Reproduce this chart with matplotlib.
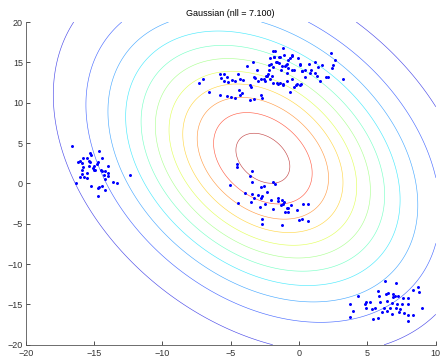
import numpy as np
import matplotlib.pyplot as plt
from matplotlib.colors import Normalize

# cluster points (x, y)
c1_x = [-16.6, -15.3, -15.2, -15.8, -15.5, -16.2, -16.0, -15.9, -15.4, -15.3, -14.7,
        -14.8, -14.4, -14.6, -15.4, -15.0, -15.1, -15.0, -14.9, -15.8, -15.9, -15.5,
        -15.9, -15.7, -15.5, -16.0, -14.5, -14.4, -14.2, -14.0, -14.0, -14.3, -14.2,
        -14.0, -16.3, -13.6, -13.3, -15.2, -14.7, -14.6, -14.4, -14.2, -14.7, -12.4]
c1_y = [4.6, 3.8, 3.5, 3.2, 3.2, 2.7, 2.8, 2.5, 2.8, 2.6, 2.7,
        2.4, 3.2, 4.0, 2.2, 2.2, 1.9, 1.6, 1.7, 2.0, 1.7, 1.3,
        1.2, 0.8, 0.7, 0.8, 1.7, 1.5, 1.5, 2.2, 1.3, 1.0, 0.6,
        0.9, 0.0, 0.2, 0.1, -0.3, -0.6, -0.5, -0.3, -0.8, -1.6, 1.1]

c2_x = [-7.3, -7.0, -6.6, -5.8, -5.5, -5.7, -5.5, -5.3, -5.2, -4.9, -4.7, -4.5, -4.3,
        -4.1, -4.4, -4.2, -3.6, -3.5, -3.3, -3.2, -3.1, -3.4, -3.8, -3.0, -2.8, -2.6,
        -2.5, -2.4, -2.3, -2.2, -2.2, -1.9, -1.8, -1.5, -1.2, -1.1, -1.5, -1.7, -1.9,
        -2.0, -1.9, -1.6, -1.2, -0.9, -1.0, -0.9, -0.8, -0.7, -0.5, -0.4, -0.5, -0.9,
        -0.7, -0.4, -0.2, 0.1, -0.05, 0.1, 0.2, 0.4, 0.7, 0.9, 1.2, 1.3, 1.5, 1.2,
        1.7, 2.1, 2.3, 2.6, 2.4, 3.2, -3.3, -4.3, -3.6, -2.8, -2.7, -5.8, -5.3, -5.0,
        -4.7, -1.76, -1.4, -0.54, -1.8, -2.1, -1.6, -0.98, -1.27, -0.78, -2.05, -1.3,
        -0.54, 0.07, 1.36, 0.24, 0.8, 2.0, 2.5, -2.37, -2.1, -1.4, -1.2, -1.56, -0.17,
        0.14, 0.44]
c2_y = [12.4, 12.9, 11.3, 13.5, 13.6, 13.0, 12.7, 13.2, 12.6, 12.8, 12.7, 13.6, 12.9,
        12.8, 11.6, 11.2, 12.2, 12.0, 13.2, 13.0, 14.1, 15.1, 14.5, 12.7, 12.9, 12.9,
        12.7, 13.3, 13.5, 14.1, 14.7, 16.4, 15.7, 15.7, 16.8, 15.9, 14.9, 15.0, 14.4,
        13.3, 12.5, 12.4, 12.2, 13.7, 14.5, 14.8, 15.3, 15.6, 15.9, 14.1, 12.9, 12.7,
        11.3, 12.0, 12.2, 12.2, 15.5, 14.8, 13.9, 14.0, 14.8, 14.0, 13.7, 13.3, 12.7, 15.0,
        14.7, 13.2, 16.1, 15.3, 14.3, 12.9, 10.4, 11.0, 10.3, 10.9, 10.6, 11.0, 10.8, 10.7,
        10.6, 16.4, 15.7, 15.8, 15.7, 15.5, 15.1, 14.7, 14.5, 14.3, 14.8, 14.0,
        14.1, 14.7, 14.4, 13.9, 13.7, 13.2, 14.7, 13.3, 12.9, 12.5, 12.3, 12.3, 12.3,
        12.3, 13.2]

c3_x = [-4.57, -4.57, -3.47, -3.59, -3.47, -5.05, -2.79, -2.54, -1.88, -1.76, -2.37,
        -3.96, -3.47, -3.03, -2.74, -3.27, -2.78, -3.52, -4.44, -2.5, -2.05, -1.57,
        -1.57, -1.22, -1.08, -1.15, -1.32, -0.91, -0.79, -0.62, -2.86, -1.93, -1.03,
        -0.83, -0.18, 0.31, 0.68, -2.69, -2.69, -1.22, 0.0, 0.19, 0.63]
c3_y = [2.4, 2.0, 1.5, 0.9, 0.2, -0.2, -0.5, -0.35, 0.15, -0.06, -1.1,
        -1.2, -1.3, -1.4, -1.6, -1.8, -1.8, -2.3, -2.4, -2.5, -2.0, -1.8,
        -2.2, -2.1, -2.3, -2.6, -2.7, -3.1, -3.05, -2.7, -2.9, -3.2, -3.5,
        -3.6, -3.3, -2.5, -2.5, -4.4, -5.0, -5.1, -4.5, -4.4, -4.7]

c4_x = [6.29, 7.09, 5.8, 6.48, 6.34, 6.85, 7.02, 6.9, 7.21, 4.34, 5.87, 8.36, 8.68,
        8.77, 4.87, 5.19, 4.82, 4.87, 5.92, 6.41, 6.77, 7.14, 7.5, 7.63, 7.99, 7.95,
        3.73, 5.56, 5.31, 6.24, 6.65, 7.07, 7.38, 6.04, 6.41, 6.77, 7.7, 7.95, 8.36,
        3.97, 5.8, 5.43, 7.31, 9.0, 8.0, 3.73]
c4_y = [-12.08, -12.4, -13.3, -13.6, -13.7, -13.7, -13.9, -14.1, -14.0, -14.0, -14.0,
        -13.2, -12.9, -13.4, -14.7, -14.7, -15.0, -15.4, -14.7, -14.6, -14.8, -14.95,
        -15.0, -14.2, -14.2, -15.0, -15.0, -15.4, -15.6, -15.4, -15.4, -15.5, -15.6,
        -15.9, -15.85, -16.2, -16.05, -16.3, -16.3, -15.85, -16.7, -16.8, -16.0, -15.5,
        -17.0, -16.6]

x = np.array(c1_x + c2_x + c3_x + c4_x)
y = np.array(c1_y + c2_y + c3_y + c4_y)
X = np.column_stack([x, y])

# fit gaussian
mu = X.mean(axis=0)
S = np.cov(X.T, bias=True)
Si = np.linalg.inv(S)
norm = 1.0 / (2 * np.pi * np.sqrt(np.linalg.det(S)))

def dens(P):
    d = P - mu
    return norm * np.exp(-0.5 * np.sum(d @ Si * d, axis=1))

gx, gy = np.meshgrid(np.linspace(-20, 10, 300), np.linspace(-20, 20, 300))
Z = dens(np.column_stack([gx.ravel(), gy.ravel()])).reshape(gx.shape)

# density levels as fractions of the peak
fracs = np.linspace(0.085, 0.96, 11)
levels = norm * fracs

plt.rcParams['font.family'] = ['Liberation Sans', 'DejaVu Sans']
fig = plt.figure(figsize=(4.42, 3.61), dpi=100)
ax = fig.add_axes([0.058, 0.045, 0.928, 0.894])
ax.contour(gx, gy, Z, levels=levels, cmap='jet', norm=Normalize(0, norm),
           linewidths=0.45, alpha=0.7)
ax.plot(x, y, '.', color='blue', markersize=2.3)
ax.set_xlim(-20, 10)
ax.set_ylim(-20, 20)
ax.set_xticks(np.arange(-20, 11, 5))
ax.set_yticks(np.arange(-20, 21, 5))
ax.tick_params(direction='in', length=3, labelsize=6.5, width=0.6, colors='#333333')
ax.tick_params(axis='x', pad=2.8)
ax.tick_params(axis='y', pad=2)
for s in ['top', 'right']:
    ax.spines[s].set_visible(False)
for s in ['left', 'bottom']:
    ax.spines[s].set_linewidth(0.6)
    ax.spines[s].set_color('#555555')
ax.set_title('Gaussian (nll = %.3f)' % 7.100, fontsize=6.5, pad=4)
fig.savefig('out.png', dpi=100)
